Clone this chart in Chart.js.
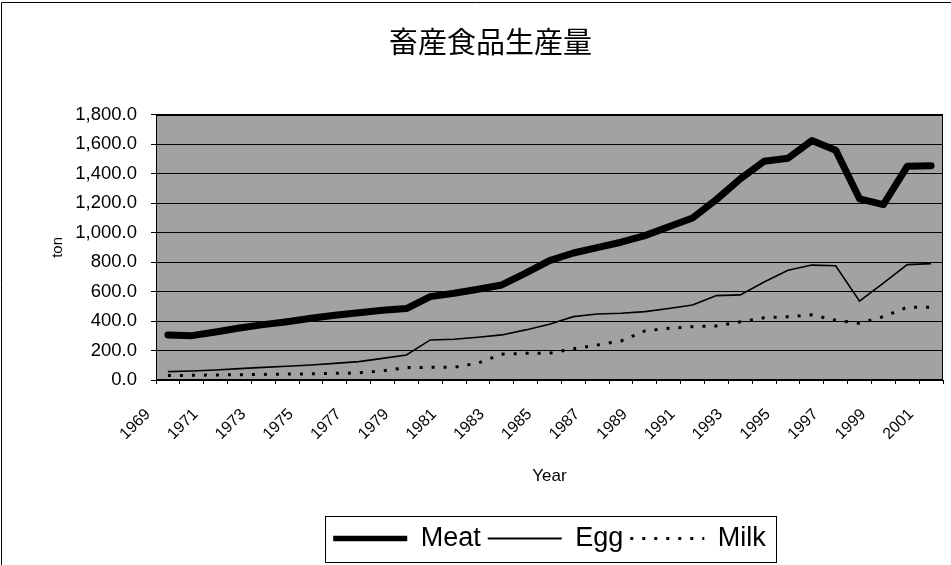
<!DOCTYPE html>
<html><head><meta charset="utf-8">
<script src="https://cdn.jsdelivr.net/npm/chart.js@4"></script>
<style>html,body{margin:0;padding:0;background:#fff;}</style>
</head><body>
<canvas id="c" width="951" height="565"></canvas>
<script>
const years = [1969,1970,1971,1972,1973,1974,1975,1976,1977,1978,1979,1980,1981,1982,1983,1984,1985,1986,1987,1988,1989,1990,1991,1992,1993,1994,1995,1996,1997,1998,1999,2000,2001];
const meat = [306,301,326,353,376,396,419,439,457,473,485,566,589,616,645,725,810,862,898,935,980,1040,1100,1225,1365,1485,1505,1625,1560,1230,1190,1450,1455];
const egg  = [57,61,68,77,86,93,102,113,125,147,170,272,277,290,306,340,378,430,448,453,464,485,509,573,578,665,745,780,775,535,658,783,790];
const milk = [30,32,34,36,38,40,42,45,48,62,84,86,87,115,175,181,182,212,237,265,333,351,362,367,395,422,430,442,405,385,430,494,494];
const yMin = 0, yMax = 1800, yStep = 200;
const chartTitle = '畜産食品生産量';
const xTitle = 'Year';
const yTitle = 'ton';

const legendLineWidths = [5.5, 1.8, 3];

const framePlugin = {
  id: 'frame',
  beforeDraw(chart) {
    const {ctx, chartArea: a} = chart;
    ctx.save();
    ctx.fillStyle = '#ffffff';
    ctx.fillRect(0, 0, chart.width, chart.height);
    ctx.fillStyle = '#a2a2a2';
    ctx.fillRect(a.left, a.top, a.right - a.left, a.bottom - a.top);
    ctx.strokeStyle = '#000';
    ctx.lineWidth = 1;
    ctx.beginPath();
    ctx.moveTo(1.5, chart.height);
    ctx.lineTo(1.5, 2.5);
    ctx.lineTo(chart.width, 2.5);
    ctx.stroke();
    ctx.restore();
  },
  afterDraw(chart) {
    const {ctx, chartArea: a, legend} = chart;
    ctx.save();
    ctx.strokeStyle = '#000';
    ctx.lineWidth = 1;
    ctx.strokeRect(Math.round(a.left) + 0.5, Math.round(a.top) + 0.5, Math.round(a.right - a.left) - 1, Math.round(a.bottom - a.top) - 1);
    const hb = legend.legendHitBoxes;
    if (hb && hb.length) {
      const l = hb[0].left - 8;
      const last = hb[hb.length - 1];
      const r = last.left + last.width + 10;
      const cy = hb[0].top + hb[0].height / 2;
      ctx.strokeRect(Math.round(l) + 0.5, Math.round(cy - 23) + 0.5, Math.round(r - l), 46);
    }
    ctx.restore();
  }
};

Chart.defaults.font.family = "'Liberation Sans', Arial, sans-serif";
Chart.defaults.color = '#000';

new Chart(document.getElementById('c'), {
  type: 'line',
  data: {
    labels: years,
    datasets: [
      {label: 'Meat', data: meat, borderColor: '#000', backgroundColor: '#000', borderWidth: 7, pointRadius: 0, tension: 0, borderJoinStyle: 'round', borderCapStyle: 'round', fill: false},
      {label: 'Egg', data: egg, borderColor: '#000', backgroundColor: '#000', borderWidth: 1.6, pointRadius: 0, tension: 0, fill: false},
      {label: 'Milk', data: milk, borderColor: '#000', backgroundColor: '#000', borderWidth: 3, borderDash: [3, 9], pointRadius: 0, tension: 0, fill: false}
    ]
  },
  options: {
    responsive: false,
    animation: false,
    devicePixelRatio: 1,
    layout: {padding: {left: 38, right: 8, top: 0, bottom: 3}},
    plugins: {
      title: {display: true, text: chartTitle, font: {family: "'Noto Sans CJK JP', sans-serif", size: 29, weight: 'normal'}, color: '#000', padding: {top: 25, bottom: 55}},
      legend: {
        position: 'bottom', fullSize: false,
        labels: {
          usePointStyle: true, pointStyle: 'line', pointStyleWidth: 74, padding: 7, color: '#000', font: {size: 27},
          generateLabels: function(chart) {
            const items = Chart.defaults.plugins.legend.labels.generateLabels(chart);
            items.forEach(function(it, i) {
              const ds = chart.data.datasets[it.datasetIndex];
              it.lineDash = ds.borderDash ? [3, 9] : [];
              it.lineWidth = legendLineWidths[i];
              it.lineCap = 'butt';
              it.strokeStyle = '#000';
              it.fillStyle = '#000';
            });
            return items;
          }
        }
      },
      tooltip: {enabled: false}
    },
    scales: {
      x: {
        offset: true,
        grid: {display: true, drawOnChartArea: false, drawTicks: true, tickLength: 4, offset: true, color: '#000'},
        border: {display: true, color: '#000'},
        ticks: {autoSkip: false, minRotation: 45, maxRotation: 45, padding: 21, labelOffset: -20, color: '#000', font: {size: 16},
          callback: function(v, i) { return i % 2 === 0 ? String(years[i]) : ''; }},
        title: {display: true, text: xTitle, color: '#000', font: {size: 17}, padding: {top: 0, bottom: 31}},
        afterFit: function(s) { s.height = 138; s.paddingLeft = 0; s.paddingRight = 0; }
      },
      y: {
        min: yMin, max: yMax,
        grid: {color: '#000', lineWidth: 1, drawTicks: true, tickLength: 5},
        border: {display: true, color: '#000'},
        ticks: {stepSize: yStep, padding: 14, color: '#000', font: {size: 18.5},
          callback: function(v) { return Number(v).toLocaleString('en-US', {minimumFractionDigits: 1, maximumFractionDigits: 1}); }},
        title: {display: true, text: yTitle, color: '#000', font: {size: 15}, padding: {top: 11, bottom: 0}},
        afterFit: function(s) { s.width = 118; }
      }
    }
  },
  plugins: [framePlugin]
});
</script>
</body></html>
